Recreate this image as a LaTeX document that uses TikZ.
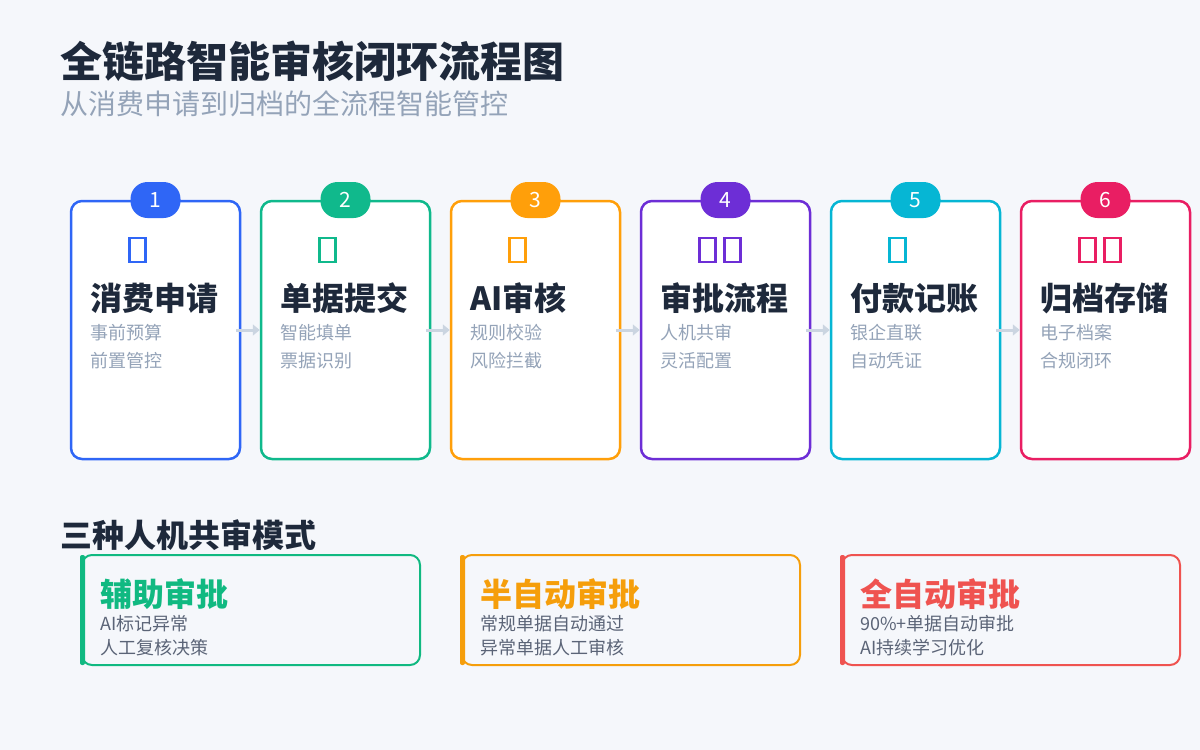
\documentclass[tikz,border=0pt]{standalone}
\usepackage{fontspec}
\setmainfont{Noto Sans CJK SC}
\usetikzlibrary{arrows.meta}
\definecolor{bg}{HTML}{F5F7FB}
\definecolor{ink}{HTML}{1E293B}
\definecolor{muted}{HTML}{94A3B8}
\definecolor{body}{HTML}{5B6477}
\definecolor{arrowc}{HTML}{CBD5E1}
\definecolor{cA}{HTML}{2F66F6}
\definecolor{cB}{HTML}{10B98C}
\definecolor{cC}{HTML}{FF9F0A}
\definecolor{cD}{HTML}{6D2ED6}
\definecolor{cE}{HTML}{06B6D4}
\definecolor{cF}{HTML}{E91E63}
\definecolor{cG}{HTML}{10B981}
\definecolor{cH}{HTML}{F59E0B}
\definecolor{cI}{HTML}{EF5350}
\tikzset{
  stepbox/.style={draw, line width=2.5pt, fill=white, rounded corners=11pt,
    minimum width=169pt, minimum height=258pt, inner sep=0pt},
  badge/.style={rounded corners=17pt, minimum width=50pt, minimum height=36pt,
    inner sep=0pt, text=white, font=\fontsize{21}{21}\selectfont},
  iconbox/.style={draw, line width=2.4pt, minimum width=16pt, minimum height=24pt, inner sep=0pt},
  steptitle/.style={anchor=west, inner sep=0pt, text=ink, font=\fontsize{32}{32}\selectfont\bfseries},
  stepsub/.style={anchor=west, inner sep=0pt, text=muted, font=\fontsize{18}{18}\selectfont},
  flow/.style={draw=arrowc, line width=3pt, -{Triangle[length=7pt,width=11pt]}, shorten <=-5pt},
  card/.style={draw, line width=2pt, rounded corners=10pt, fill=bg},
  cardtitle/.style={anchor=west, inner sep=0pt, font=\fontsize{32}{32}\selectfont\bfseries},
  cardline/.style={anchor=west, inner sep=0pt, text=body, font=\fontsize{18}{18}\selectfont},
}
\begin{document}
\begin{tikzpicture}[x=1pt,y=-1pt]
\fill[bg] (0,0) rectangle (1200,750);
\useasboundingbox (0,0) rectangle (1200,750);

\node[anchor=west, inner sep=0pt, text=ink, font=\fontsize{42}{42}\selectfont\bfseries] (title) at (60,61) {全链路智能审核闭环流程图};
\node[anchor=west, inner sep=0pt, text=muted, font=\fontsize{28}{28}\selectfont] (subtitle) at (60,104) {从消费申请到归档的全流程智能管控};

\foreach \i/\col/\ttl/\la/\lb/\nic in {
  1/cA/消费申请/事前预算/前置管控/1,
  2/cB/单据提交/智能填单/票据识别/1,
  3/cC/AI审核/规则校验/风险拦截/1,
  4/cD/审批流程/人机共审/灵活配置/2,
  5/cE/付款记账/银企直联/自动凭证/1,
  6/cF/归档存储/电子档案/合规闭环/2}{
  \pgfmathsetmacro{\cx}{155.5+(\i-1)*190}
  \pgfmathsetmacro{\lx}{\cx-84.5}
  \node[stepbox, draw=\col] (b\i) at (\cx,330) {};
  \node[badge, fill=\col] (n\i) at (\cx,200) {\i};
  \foreach \k in {1,...,\nic}{
    \node[iconbox, draw=\col] (ic\i-\k) at ({\lx+66.5+(\k-1)*25},250) {};
  }
  \node[steptitle] (t\i) at ({\lx+19},298) {\ttl};
  \node[stepsub] (sa\i) at ({\lx+19},333) {\la};
  \node[stepsub] (sb\i) at ({\lx+19},361) {\lb};
}
\foreach \i/\j in {1/2,2/3,3/4,4/5,5/6}{
  \draw[flow] (b\i.east) -- (b\j.west);
}

\node[anchor=west, inner sep=0pt, text=ink, font=\fontsize{32}{32}\selectfont\bfseries] (modes) at (60,535) {三种人机共审模式};

\foreach \i/\col/\ttl/\la/\lb in {
  1/cG/辅助审批/AI标记异常/人工复核决策,
  2/cH/半自动审批/常规单据自动通过/异常单据人工审核,
  3/cI/全自动审批/90\%+单据自动审批/AI持续学习优化}{
  \pgfmathsetmacro{\lx}{80+(\i-1)*380}
  \draw[card, draw=\col] ({\lx+2},555) rectangle ({\lx+340},665);
  \fill[\col, rounded corners=2pt] (\lx,555) rectangle ({\lx+5},665);
  \node[cardtitle, text=\col] (ct\i) at ({\lx+20},594) {\ttl};
  \node[cardline] (ca\i) at ({\lx+20},624) {\la};
  \node[cardline] (cb\i) at ({\lx+20},648) {\lb};
}
\end{tikzpicture}
\end{document}
